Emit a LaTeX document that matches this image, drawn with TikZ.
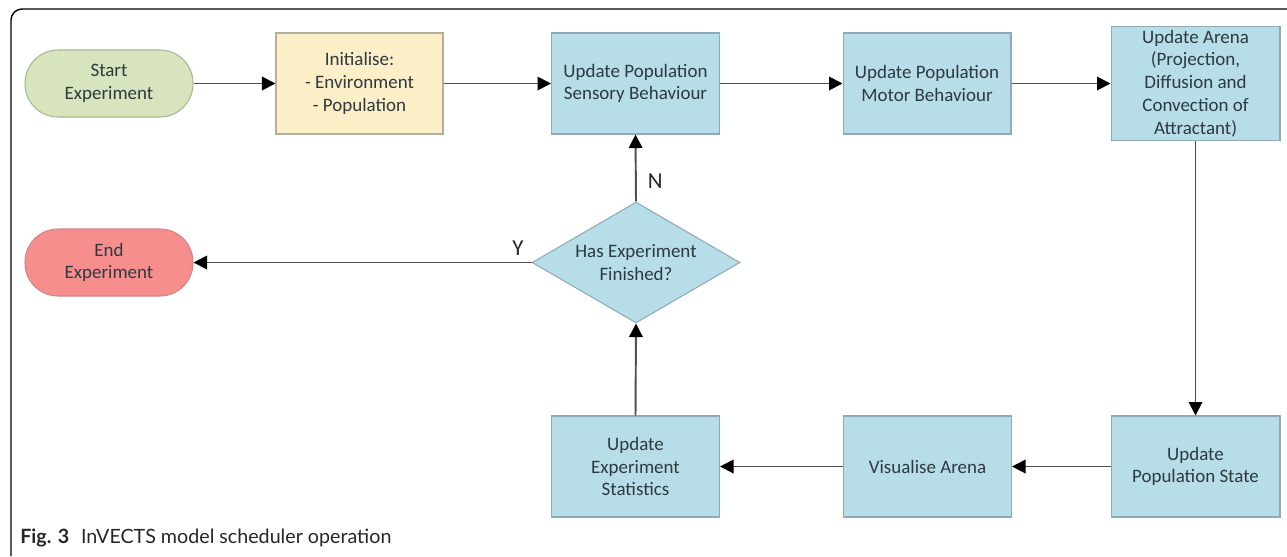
\documentclass[tikz,border=0pt]{standalone}
\usepackage{fontspec}
\setmainfont{Carlito}
\newfontfamily\capfont{Lato}
\usetikzlibrary{shapes.geometric,arrows.meta}

\definecolor{boxblue}{HTML}{B7DDE8}
\definecolor{boxblueedge}{HTML}{8FAAB6}
\definecolor{startgreen}{HTML}{D7E4BD}
\definecolor{startedge}{HTML}{A9B98F}
\definecolor{inityellow}{HTML}{FCEFC8}
\definecolor{initedge}{HTML}{B5AE9C}
\definecolor{endred}{HTML}{F68E8E}
\definecolor{endedge}{HTML}{CF8787}
\definecolor{boxtext}{HTML}{2E3940}
\definecolor{linegrey}{HTML}{505050}

\tikzset{
  every node/.style={font=\fontsize{10.8pt}{13pt}\selectfont, text=boxtext},
  procbox/.style={rectangle, draw=boxblueedge, fill=boxblue, line width=0.6pt,
    minimum width=3.36cm, minimum height=2.02cm, align=center, inner sep=2pt},
  terminal/.style={rectangle, rounded corners=0.66cm, line width=0.6pt,
    minimum width=3.36cm, minimum height=1.34cm, align=center},
  decision/.style={diamond, draw=boxblueedge, fill=boxblue, line width=0.6pt,
    aspect=1.72, inner sep=0pt, minimum width=4.16cm, minimum height=2.42cm, align=center},
  flow/.style={draw=linegrey, line width=1.1pt,
    -{Triangle[length=0.27cm,width=0.27cm,fill=black,color=black]}},
  branch/.style={font=\fontsize{13pt}{15pt}\selectfont, text=black!85},
}

\begin{document}
\begin{tikzpicture}[x=0.02cm,y=-0.02cm]
\useasboundingbox (0,0) rectangle (1287,556);

% outer frame
\draw[line width=0.8pt, rounded corners=0.22cm] (1287,9) -- (11,9) -- (11,556);

% nodes
\node[terminal, draw=startedge, fill=startgreen] (start) at (109,83.5) {Start\\Experiment};
\node[procbox, draw=initedge, fill=inityellow, minimum width=3.34cm] (init) at (359.5,83.5)
  {Initialise:\\- Environment\\- Population};
\node[procbox] (sensory) at (635.5,83.5) {Update Population\\Sensory Behaviour};
\node[procbox] (motor) at (927,83.5) {Update Population\\Motor Behaviour};
\node[procbox, minimum width=3.38cm, minimum height=2.26cm] (arena) at (1195.5,83.5)
  {Update Arena\\(Projection,\\Diffusion and\\Convection of\\Attractant)};
\node[procbox, minimum width=3.38cm] (popstate) at (1195.5,466.5) {Update\\Population State};
\node[procbox] (visual) at (927.5,466.5) {Visualise Arena};
\node[procbox] (stats) at (635.5,466.5) {Update\\Experiment\\Statistics};
\node[decision] (done) at (636,262.5) {Has Experiment\\Finished?};
\node[terminal, draw=endedge, fill=endred] (finish) at (109,262.5) {End\\Experiment};

% connectors
\draw[flow] (start) -- (init);
\draw[flow] (init) -- (sensory);
\draw[flow] (sensory) -- (motor);
\draw[flow] (motor.east) -- (motor.east -| arena.west);
\draw[flow] (arena.south -| popstate.north) -- (popstate.north);
\draw[flow] (popstate) -- (visual);
\draw[flow] (visual) -- (stats);
\draw[flow] (stats.north) -- (done.south);
\draw[flow] (done.north) -- node[branch, right, pos=0.3, xshift=3pt] (nlabel) {N} (sensory.south);
\draw[flow] (done.west) -- node[branch, above, pos=0.04] (ylabel) {Y} (finish.east);

% caption
\node[anchor=base west, inner sep=0pt, text=black!85, font=\capfont\fontsize{11.2pt}{13pt}\selectfont]
  (caption) at (20,543) {\textbf{Fig. 3}\hspace{0.6em}InVECTS model scheduler operation};
\end{tikzpicture}
\end{document}
